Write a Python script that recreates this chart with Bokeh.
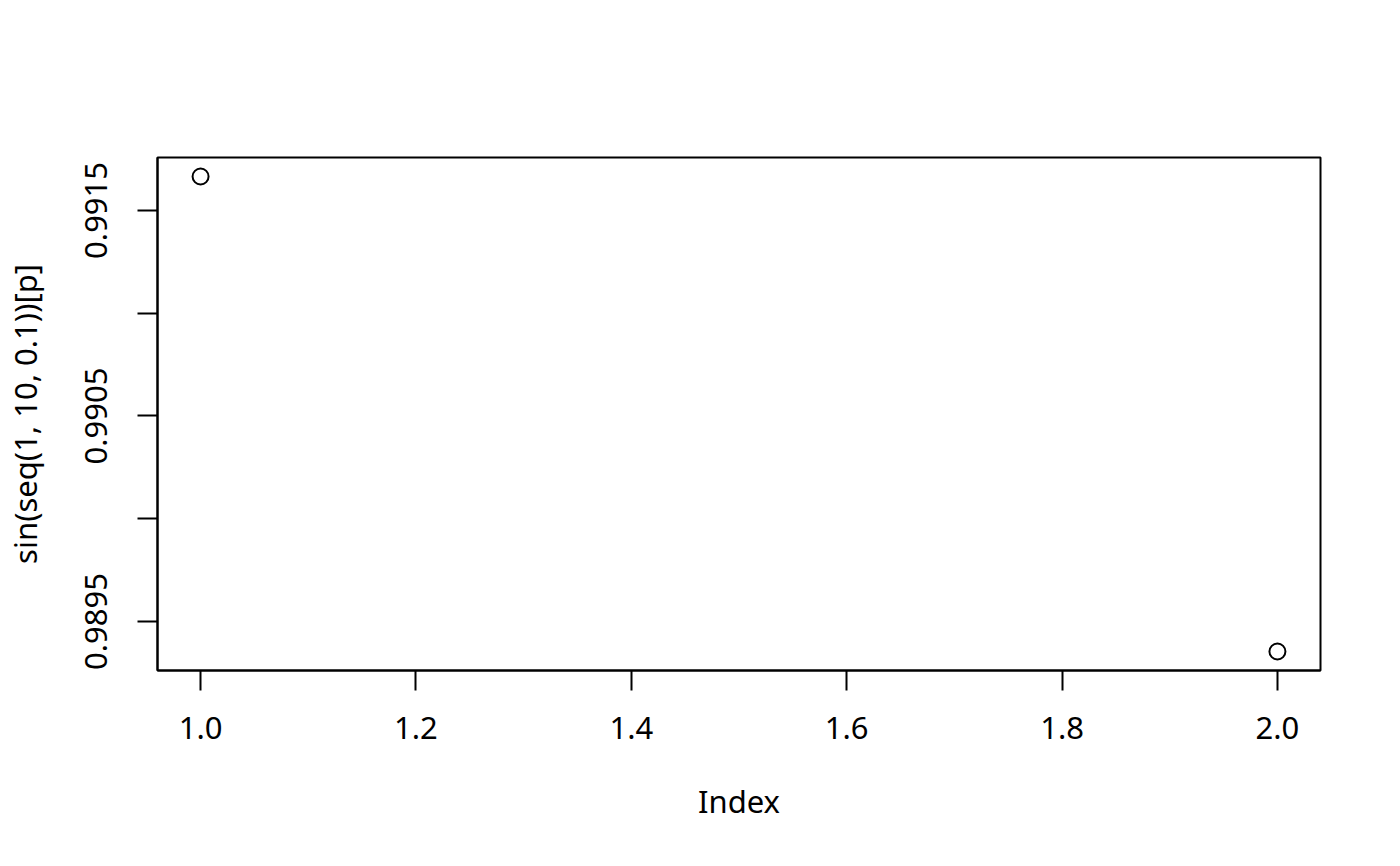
from bokeh.plotting import figure
from bokeh.models import Range1d, FixedTicker
from bokeh.embed import file_html
from bokeh.resources import INLINE

index = [1, 2]
values = [0.991665, 0.989354]
x_ticks = [1.0, 1.2, 1.4, 1.6, 1.8, 2.0]
x_tick_labels = ["1.0", "1.2", "1.4", "1.6", "1.8", "2.0"]
y_ticks = [0.9895, 0.9900, 0.9905, 0.9910, 0.9915]
y_tick_labels = ["0.9895", "", "0.9905", "", "0.9915"]

FONT = "Noto Sans"
FS = "31px"

xpad = (max(index) - min(index)) * 0.04
ypad = (max(values) - min(values)) * 0.04

p = figure(width=1384, height=850, output_backend="svg", toolbar_location=None,
           x_range=Range1d(min(index) - xpad, max(index) + xpad),
           y_range=Range1d(min(values) - ypad, max(values) + ypad),
           min_border_left=157, min_border_right=64, min_border_top=157, min_border_bottom=180,
           x_axis_label="Index", y_axis_label="sin(seq(1, 10, 0.1))[p]")

p.grid.visible = False
p.outline_line_color = "black"
p.outline_line_width = 2
p.outline_line_alpha = 1
p.background_fill_color = "white"
p.border_fill_color = "white"

p.xaxis.ticker = FixedTicker(ticks=x_ticks)
p.xaxis.major_label_overrides = {t: l for t, l in zip(x_ticks, x_tick_labels)}
p.yaxis.ticker = FixedTicker(ticks=y_ticks)
p.yaxis.major_label_overrides = {t: l for t, l in zip(y_ticks, y_tick_labels)}
p.yaxis.major_label_orientation = "vertical"

for ax in (p.xaxis, p.yaxis):
    ax.axis_line_color = "black"
    ax.axis_line_width = 2
    ax.major_tick_line_color = "black"
    ax.major_tick_line_width = 2
    ax.major_tick_out = 20
    ax.major_tick_in = 0
    ax.minor_tick_line_color = None
    ax.major_label_text_font = FONT
    ax.major_label_text_font_size = FS
    ax.major_label_text_color = "black"
    ax.axis_label_text_font = FONT
    ax.axis_label_text_font_size = FS
    ax.axis_label_text_font_style = "normal"
    ax.axis_label_text_color = "black"

p.xaxis.major_label_standoff = 26
p.xaxis.axis_label_standoff = 38
p.yaxis.major_label_standoff = 30
p.yaxis.axis_label_standoff = 37

p.scatter(index, values, size=16, marker="circle", fill_color=None,
          line_color="black", line_width=2)

open("out.html", "w").write(file_html(p, INLINE))
